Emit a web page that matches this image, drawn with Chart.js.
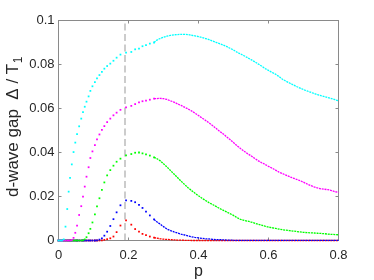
<!DOCTYPE html>
<html><head><meta charset="utf-8">
<script src="https://cdn.jsdelivr.net/npm/chart.js@4/dist/chart.umd.min.js"></script>
<style>html,body{margin:0;padding:0;background:#fff;}#wrap{width:374px;height:280px;}</style>
</head><body><div id="wrap"><canvas id="c" width="374" height="280"></canvas></div>
<script>
// shared sampling of p for the dotted (sparse) part of every curve
const pLow = [0.000,0.005,0.010,0.015,0.020,0.025,0.029,0.033,0.038,0.043,0.048,0.053,0.059,0.065,0.070,0.075,0.080,0.086,0.091,0.097,0.104,0.110,0.117,0.124,0.131,0.139,0.148,0.157,0.166,0.177,0.193,0.208,0.219,0.230,0.240,0.250,0.261,0.273];
const cyanLow = [0,0,0,0.0005,0.0063,0.0143,0.0222,0.0285,0.0346,0.0402,0.0445,0.0484,0.0519,0.0554,0.0583,0.0608,0.0631,0.0655,0.0680,0.0701,0.0720,0.0737,0.0752,0.0767,0.0781,0.0793,0.0804,0.0817,0.0831,0.0845,0.0854,0.0857,0.0869,0.0872,0.0883,0.0888,0.0895,0.0900];
const magentaLow = [0,0,0,0,0,0,0,0,0.0002,0.0012,0.0035,0.0068,0.0116,0.0156,0.0199,0.0245,0.0290,0.0333,0.0375,0.0405,0.0434,0.0460,0.0482,0.0503,0.0520,0.0538,0.0554,0.0569,0.0581,0.0594,0.0605,0.0612,0.0620,0.0628,0.0633,0.0636,0.0640,0.0645];
const greenLow = [0,0,0,0,0,0,0,0,0,0,0,0,0,0,0.0001,0.0005,0.0015,0.0033,0.0053,0.0082,0.0119,0.0155,0.0192,0.0230,0.0264,0.0296,0.0320,0.0340,0.0358,0.0372,0.0387,0.0393,0.0399,0.0400,0.0396,0.0391,0.0386,0.0378];
const blueLow = [0,0,0,0,0,0,0,0,0,0,0,0,0,0,0,0,0,0,0,0,0,0.0001,0.0004,0.0010,0.0022,0.0040,0.0066,0.0097,0.0128,0.0160,0.0182,0.0180,0.0174,0.0162,0.0148,0.0131,0.0114,0.0096];
const redLow = [0,0,0,0,0,0,0,0,0,0,0,0,0,0,0,0,0,0,0,0,0,0,0,0.0001,0.0003,0.0006,0.0010,0.0018,0.0038,0.0068,0.0092,0.0072,0.0052,0.0040,0.0030,0.0024,0.0018,0.0013];

// dense part of every curve (drawn as a continuous dotted trace)
const pHigh = [0.273,0.28,0.29,0.30,0.31,0.32,0.33,0.34,0.35,0.36,0.37,0.38,0.39,0.40,0.41,0.42,0.43,0.44,0.45,0.46,0.47,0.48,0.49,0.50,0.51,0.52,0.53,0.54,0.55,0.56,0.57,0.58,0.59,0.60,0.61,0.62,0.63,0.64,0.65,0.66,0.67,0.68,0.69,0.70,0.71,0.72,0.73,0.74,0.75,0.76,0.77,0.78,0.79,0.80];
const cyanHigh = [0.0900,0.0910,0.0918,0.0924,0.0929,0.0932,0.0935,0.0936,0.0937,0.0937,0.0936,0.0933,0.0930,0.0927,0.0923,0.0918,0.0913,0.0907,0.0901,0.0895,0.0889,0.0882,0.0874,0.0866,0.0856,0.0848,0.0840,0.0831,0.0822,0.0813,0.0803,0.0793,0.0782,0.0773,0.0764,0.0756,0.0745,0.0733,0.0724,0.0716,0.0708,0.0700,0.0693,0.0686,0.0680,0.0674,0.0668,0.0663,0.0658,0.0654,0.0650,0.0645,0.0640,0.0635];
const magentaHigh = [0.0645,0.0645,0.0646,0.0645,0.0641,0.0635,0.0629,0.0621,0.0614,0.0606,0.0598,0.0589,0.0579,0.0568,0.0557,0.0546,0.0535,0.0523,0.0510,0.0497,0.0485,0.0472,0.0459,0.0445,0.0431,0.0418,0.0406,0.0395,0.0385,0.0374,0.0363,0.0354,0.0346,0.0337,0.0329,0.0320,0.0311,0.0304,0.0297,0.0290,0.0284,0.0278,0.0272,0.0265,0.0257,0.0250,0.0244,0.0239,0.0235,0.0233,0.0231,0.0227,0.0222,0.0218];
const greenHigh = [0.0378,0.0373,0.0363,0.0349,0.0334,0.0318,0.0302,0.0286,0.0270,0.0255,0.0240,0.0227,0.0215,0.0203,0.0192,0.0182,0.0172,0.0164,0.0155,0.0146,0.0138,0.0130,0.0122,0.0114,0.0104,0.0096,0.0092,0.0088,0.0084,0.0079,0.0074,0.0070,0.0065,0.0061,0.0058,0.0055,0.0052,0.0049,0.0047,0.0045,0.0043,0.0041,0.0039,0.0037,0.0036,0.0035,0.0034,0.0033,0.0032,0.0031,0.0029,0.0028,0.0027,0.0026];
const blueHigh = [0.0096,0.0086,0.0075,0.0063,0.0052,0.0045,0.0039,0.0034,0.0029,0.0025,0.0021,0.0017,0.0014,0.0012,0.0010,0.0008,0.0007,0.0005,0.0004,0.0004,0.0003,0.0002,0.0002,0.0001,0.0001,0.0001,0.0001,0.0001,0.0001,0.0001,0.0001,0.0001,0.0001,0.0001,0.0001,0.0001,0.0001,0.0001,0.0001,0.0001,0.0001,0.0001,0.0001,0.0001,0.0001,0.0001,0.0001,0.0001,0.0001,0.0001,0.0001,0.0001,0.0001,0.0001];
const redHigh = [0.0013,0.0011,0.0008,0.0006,0.0005,0.0004,0.0003,0.0002,0.0002,0.0001,0.0001,0,0,0,0,0,0,0,0,0,0,0,0,0,0,0,0,0,0,0,0,0,0,0,0,0,0,0,0,0,0,0,0,0,0,0,0,0,0,0,0,0,0,0];

const seriesColors = {cyan:'#00ffff', magenta:'#ff00ff', green:'#00ff00', blue:'#0000ff', red:'#ff0000'};

const xTicks = [0,0.2,0.4,0.6,0.8];
const xTickLabels = ['0','0.2','0.4','0.6','0.8'];
const yTicks = [0,0.02,0.04,0.06,0.08,0.1];
const yTickLabels = ['0','0.02','0.04','0.06','0.08','0.1'];
const pMarker = 0.19;
const xTitle = 'p';
const yTitleMain = 'd-wave gap  \u0394 / T';
const yTitleSub = '1';

const FONT = '"Liberation Sans", Arial, Helvetica, sans-serif';
const TEXT = '#262626';
const AXIS = '#8a8a8a';

function pts(px, vals){ return px.map((p,i)=>({x:p, y:vals[i]})); }
function dots(vals, color){
  return {data: pts(pLow, vals), showLine:false, pointStyle:'rect', pointRadius:1.25,
    pointBorderWidth:0, pointBackgroundColor:color, pointHoverRadius:1.25, clip:false};
}
function trace(vals, color){
  return {data: pts(pHigh, vals), showLine:true, borderColor:color, borderWidth:1.3,
    borderDash:[2,0.8], pointRadius:0, pointHoverRadius:0, tension:0, fill:false, clip:false};
}

const frame = {
  id:'frame',
  beforeDatasetsDraw(chart){
    const {ctx, chartArea:a, scales:{x, y}} = chart;
    ctx.save();
    const xm = x.getPixelForValue(pMarker);
    ctx.strokeStyle = '#bcbcbc'; ctx.lineWidth = 1.5; ctx.setLineDash([7,3.5]);
    ctx.beginPath(); ctx.moveTo(xm, a.bottom); ctx.lineTo(xm, a.top); ctx.stroke();
    ctx.setLineDash([]);
    ctx.strokeStyle = AXIS; ctx.lineWidth = 1;
    ctx.strokeRect(a.left, a.top, a.right - a.left, a.bottom - a.top);
    ctx.beginPath();
    xTicks.forEach(v=>{ const px = x.getPixelForValue(v);
      ctx.moveTo(px, a.bottom); ctx.lineTo(px, a.bottom-3);
      ctx.moveTo(px, a.top); ctx.lineTo(px, a.top+3); });
    yTicks.forEach(v=>{ const py = y.getPixelForValue(v);
      ctx.moveTo(a.left, py); ctx.lineTo(a.left+3, py);
      ctx.moveTo(a.right, py); ctx.lineTo(a.right-3, py); });
    ctx.stroke();
    ctx.restore();
  },
  afterDraw(chart){
    const {ctx, chartArea:a} = chart;
    ctx.save();
    ctx.fillStyle = TEXT;
    ctx.font = '16px ' + FONT;
    ctx.textAlign = 'center'; ctx.textBaseline = 'alphabetic';
    ctx.fillText(xTitle, (a.left + a.right)/2, 275.5);
    ctx.translate(18, 0); ctx.rotate(-Math.PI/2);
    ctx.textAlign = 'left';
    ctx.font = '17px ' + FONT;
    ctx.fillText(yTitleMain, -197, 0);
    const w = ctx.measureText(yTitleMain).width;
    ctx.font = '12px ' + FONT;
    ctx.fillText(yTitleSub, -197 + w + 0.5, 4);
    ctx.restore();
  }
};

new Chart(document.getElementById('c'), {
  type:'scatter',
  data:{datasets:[
    dots(cyanLow, seriesColors.cyan), trace(cyanHigh, seriesColors.cyan),
    dots(magentaLow, seriesColors.magenta), trace(magentaHigh, seriesColors.magenta),
    dots(greenLow, seriesColors.green), trace(greenHigh, seriesColors.green),
    dots(blueLow, seriesColors.blue), trace(blueHigh, seriesColors.blue),
    dots(redLow, seriesColors.red), trace(redHigh, seriesColors.red)
  ]},
  options:{
    responsive:false, devicePixelRatio:1, animation:false,
    layout:{padding:{left:0, top:20.5, right:35.5, bottom:0}},
    plugins:{legend:{display:false}, tooltip:{enabled:false}},
    scales:{
      x:{type:'linear', min:0, max:0.8,
        afterBuildTicks:s=>{ s.ticks = xTicks.map(v=>({value:v})); },
        afterFit:s=>{ s.height = 39.5; },
        ticks:{callback:(v,i)=>xTickLabels[i], font:{family:FONT, size:13}, color:TEXT, padding:7, maxRotation:0, autoSkip:false},
        grid:{display:false, drawTicks:false}, border:{display:false}},
      y:{type:'linear', min:0, max:0.1,
        afterBuildTicks:s=>{ s.ticks = yTicks.map(v=>({value:v})); },
        afterFit:s=>{ s.width = 58.5; },
        ticks:{callback:(v,i)=>yTickLabels[i], font:{family:FONT, size:13}, color:TEXT, padding:4, autoSkip:false},
        grid:{display:false, drawTicks:false}, border:{display:false}}
    }
  },
  plugins:[frame]
});
</script></body></html>
